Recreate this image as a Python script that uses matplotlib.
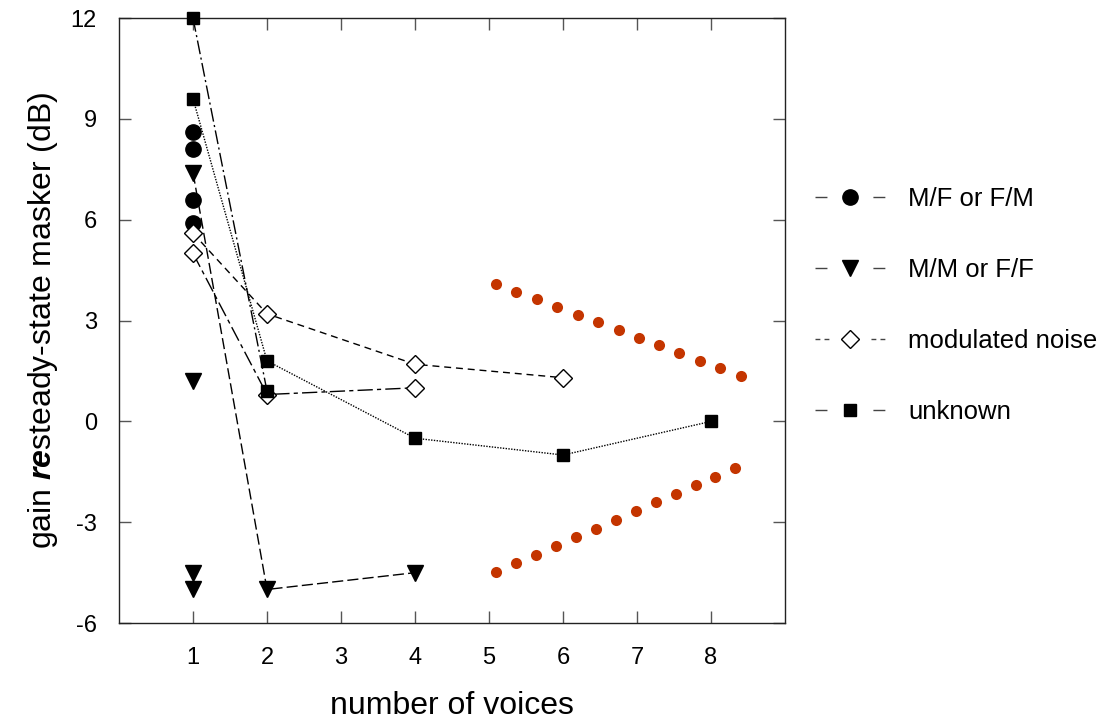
import matplotlib
matplotlib.use("Agg")
import matplotlib.pyplot as plt
from matplotlib.lines import Line2D

plt.rcParams['font.family'] = ['Liberation Sans', 'DejaVu Sans']
plt.rcParams['mathtext.fontset'] = 'custom'
plt.rcParams['mathtext.rm'] = 'Liberation Sans'
plt.rcParams['mathtext.bfit'] = 'Liberation Sans:italic:bold'
plt.rcParams['axes.unicode_minus'] = False

# data
mf_x = [1, 1, 1, 1]
mf_y = [8.6, 8.1, 6.6, 5.9]

mm_x = [1, 2, 4]
mm_y = [7.4, -5.0, -4.5]
mm_single_x = [1, 1, 1]
mm_single_y = [1.2, -4.5, -5.0]

mod1_x = [1, 2, 4, 6]
mod1_y = [5.6, 3.2, 1.7, 1.3]
mod2_x = [1, 2, 4]
mod2_y = [5.0, 0.8, 1.0]

unk1_x = [1, 2]
unk1_y = [12.0, 0.9]
unk2_x = [1, 2, 4, 6, 8]
unk2_y = [9.6, 1.8, -0.5, -1.0, 0.0]

upper_x = [5.10, 5.37, 5.65, 5.92, 6.20, 6.47, 6.75, 7.03, 7.30, 7.57, 7.85, 8.12, 8.40]
upper_y = [4.08, 3.85, 3.63, 3.39, 3.17, 2.95, 2.71, 2.49, 2.26, 2.03, 1.80, 1.58, 1.35]
lower_x = [5.10, 5.37, 5.64, 5.91, 6.18, 6.45, 6.72, 6.98, 7.25, 7.52, 7.79, 8.06, 8.33]
lower_y = [-4.49, -4.22, -3.97, -3.71, -3.45, -3.19, -2.94, -2.68, -2.41, -2.15, -1.89, -1.64, -1.38]

xticks = [1, 2, 3, 4, 5, 6, 7, 8]
yticks = [-6, -3, 0, 3, 6, 9, 12]

fig = plt.figure(figsize=(11.04, 7.22), dpi=100)
ax = fig.add_axes([0.1078, 0.137, 0.6033, 0.838])

lw = 1.0
# lines first
ax.plot(mm_x, mm_y, color='black', lw=lw, linestyle=(0, (8, 3)), zorder=2)
ax.plot(mod1_x, mod1_y, color='black', lw=lw, linestyle=(0, (5, 3.5)), zorder=2)
ax.plot(mod2_x, mod2_y, color='black', lw=lw, linestyle=(0, (11, 3, 3, 3)), zorder=2)
ax.plot(unk1_x, unk1_y, color='black', lw=lw, linestyle=(0, (10, 2.5, 1.5, 2.5)), zorder=2)
ax.plot(unk2_x, unk2_y, color='black', lw=lw, linestyle=(0, (1, 1)), zorder=2)

# markers
ax.plot(mf_x, mf_y, 'o', color='black', ms=11, zorder=4, clip_on=False)
ax.plot(mm_x + mm_single_x, mm_y + mm_single_y, 'v', color='black', ms=11, zorder=4, clip_on=False)
ax.plot(mod1_x + mod2_x, mod1_y + mod2_y, 'D', mfc='white', mec='black', mew=1.0, ms=8.8,
        zorder=4, clip_on=False)
ax.plot(unk1_x + unk2_x, unk1_y + unk2_y, 's', color='black', ms=8.5, zorder=5, clip_on=False)

ax.plot(upper_x, upper_y, 'o', color='#C43500', ms=8, mec='none', zorder=3)
ax.plot(lower_x, lower_y, 'o', color='#C43500', ms=8, mec='none', zorder=3)

ax.set_xlim(0, 9)
ax.set_ylim(-6, 12)
ax.set_xticks(xticks)
ax.set_yticks(yticks)
ax.tick_params(direction='in', length=8.6, width=1, color='#555555',
               top=True, right=True, labelsize=17)
ax.tick_params(axis='x', pad=17)
ax.tick_params(axis='y', pad=16)
for s in ax.spines.values():
    s.set_linewidth(1.0)
    s.set_color('#222222')

ax.set_xlabel('number of voices', fontsize=23)
ax.xaxis.set_label_coords(0.5, -0.113)
ax.set_ylabel(r'gain $\mathbfit{re}$steady-state masker (dB)', fontsize=23)
ax.yaxis.set_label_coords(-0.088, 0.5)

# legend handles with gaps around the marker
solid_gap = (0, (8.6, 33.1, 8.6, 100))
handles = [
    Line2D([], [], color='#444444', lw=1, linestyle=solid_gap, marker='o', ms=11, mfc='black', mec='black'),
    Line2D([], [], color='#444444', lw=1, linestyle=solid_gap, marker='v', ms=11, mfc='black', mec='black'),
    Line2D([], [], color='#444444', lw=1, linestyle=(0, (3.5, 3, 3.5, 30.3, 3.5, 3, 3.5, 100)),
           marker='D', ms=8.8, mfc='white', mec='black', mew=1.0),
    Line2D([], [], color='#444444', lw=1, linestyle=solid_gap, marker='s', ms=8.5, mfc='black', mec='black'),
]
labels = ['M/F or F/M', 'M/M or F/F', 'modulated noise', 'unknown']
fig.legend(handles, labels, loc='center left', bbox_to_anchor=(815 / 1104, 1 - 305.5 / 722),
           frameon=False, fontsize=18.5, handlelength=2.72, handletextpad=0.9,
           labelspacing=1.83, borderpad=0, borderaxespad=0)

fig.savefig('out.png', dpi=100)
